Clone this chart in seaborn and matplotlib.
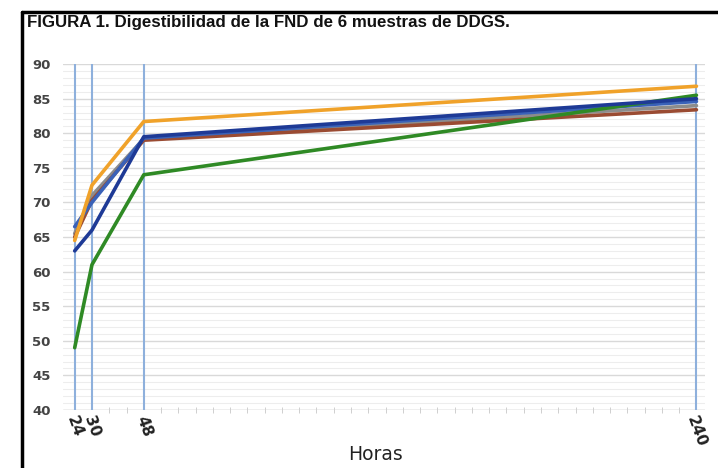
import pandas as pd
import matplotlib.pyplot as plt
import seaborn as sns
from matplotlib.ticker import MultipleLocator

# Horas de incubacion
horas = [24, 30, 48, 240]

# Digestibilidad de la FND (%) por muestra
muestra_1 = [64.5, 72.5, 81.7, 86.8]
muestra_2 = [49.0, 61.0, 74.0, 85.5]
muestra_3 = [63.0, 66.0, 79.5, 85.0]
muestra_4 = [66.5, 70.0, 79.3, 84.6]
muestra_5 = [65.0, 70.3, 79.0, 83.4]
muestra_6 = [65.5, 71.0, 79.2, 84.0]

nombres = ["M1", "M2", "M3", "M4", "M5", "M6"]
colores = ["#F0A22A", "#2F8A25", "#1E3A96", "#3A62B8", "#9A4B32", "#8C8C8C"]

series = [muestra_1, muestra_2, muestra_3, muestra_4, muestra_5, muestra_6]
df = pd.concat(
    [pd.DataFrame({"horas": horas, "fnd": v, "muestra": n}) for n, v in zip(nombres, series)],
    ignore_index=True,
)

sns.set_style("white")
plt.rcParams['font.family'] = ['DejaVu Sans']

fig = plt.figure(figsize=(7.18, 4.68), dpi=100)
ax = fig.add_axes([0.088, 0.124, 0.894, 0.739])

# draw back to front so orange ends up on top
orden = ["M6", "M5", "M4", "M2", "M3", "M1"]
sns.lineplot(data=df, x="horas", y="fnd", hue="muestra", hue_order=orden,
             palette=dict(zip(nombres, colores)), linewidth=2.6, legend=False, ax=ax, zorder=3)

ax.set_xlim(20, 243)
ax.set_ylim(40, 90)
ax.set_xticks(horas)
ax.xaxis.set_minor_locator(MultipleLocator(6))
ax.yaxis.set_major_locator(MultipleLocator(5))
ax.yaxis.set_minor_locator(MultipleLocator(1))

ax.grid(True, which="minor", axis="y", color="#EDEDED", linewidth=0.8)
ax.grid(True, which="major", axis="y", color="#D9D9D9", linewidth=1.0)
ax.set_axisbelow(True)
# lineas verticales en las horas medidas
for h in horas:
    ax.axvline(h, color="#8EB0DC", linewidth=1.5, zorder=2)

for s in ax.spines.values():
    s.set_visible(False)
ax.axhline(40, color="#D0D0D0", linewidth=1.0, zorder=1)

ax.tick_params(axis="y", which="both", length=0, pad=9, labelsize=9.5, labelcolor="#444444")
ax.tick_params(axis="x", which="major", length=0, pad=3, labelsize=11, labelcolor="#222222")
ax.tick_params(axis="x", which="minor", direction="inout", length=5, color="#C8C8C8", bottom=True)
for t in ax.get_yticklabels():
    t.set_fontweight("bold")
for t in ax.get_xticklabels():
    t.set_rotation(-70)
    t.set_fontweight("bold")
    t.set_ha("center")
    t.set_va("top")

ax.set_xlabel("Horas", fontsize=13.5, color="#222222", labelpad=0, va="center")
ax.xaxis.set_label_coords(0.487, -0.13)
ax.set_ylabel("")

fig.text(0.038, 0.951, "FIGURA 1. Digestibilidad de la FND de 6 muestras de DDGS.",
         fontsize=12.2, fontweight="bold", color="#111111", family=["Liberation Sans", "DejaVu Sans"],
         ha="left", va="center")

# marco de la figura
fig.add_artist(plt.Line2D([0.031, 0.031], [0, 0.975], color="black", linewidth=2.5))
fig.add_artist(plt.Line2D([0.031, 1.0], [0.975, 0.975], color="black", linewidth=2.5))

fig.savefig("out.png", dpi=100)
